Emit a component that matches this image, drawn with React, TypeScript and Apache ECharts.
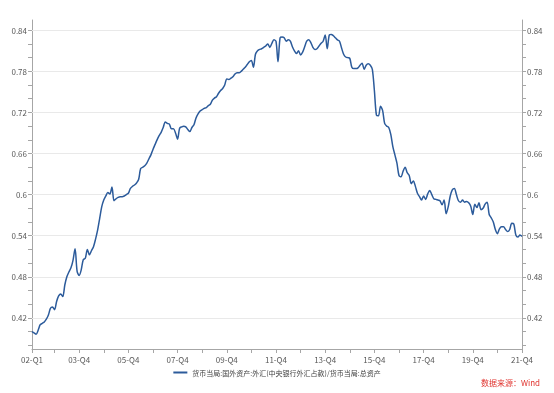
import React, { useEffect, useRef } from "react";
import * as echarts from "echarts";

// Monthly ratio, 2002-01 .. 2021-12
const ratio: number[] = [
  0.400, 0.398, 0.396, 0.402, 0.410, 0.412, 0.414, 0.418, 0.424, 0.434, 0.436, 0.432,
  0.444, 0.452, 0.455, 0.451, 0.468, 0.480, 0.487, 0.493, 0.504, 0.521, 0.488, 0.482,
  0.490, 0.505, 0.507, 0.520, 0.512, 0.518, 0.524, 0.535, 0.548, 0.565, 0.582, 0.592,
  0.598, 0.603, 0.601, 0.611, 0.591, 0.594, 0.596, 0.597, 0.597, 0.598, 0.600, 0.602,
  0.609, 0.612, 0.614, 0.617, 0.622, 0.638, 0.640, 0.642, 0.646, 0.652, 0.658, 0.666,
  0.673, 0.680, 0.686, 0.691, 0.698, 0.706, 0.704, 0.703, 0.696, 0.696, 0.690, 0.681,
  0.697, 0.699, 0.700, 0.699, 0.695, 0.692, 0.698, 0.702, 0.712, 0.718, 0.722, 0.724,
  0.726, 0.727, 0.730, 0.732, 0.738, 0.741, 0.743, 0.748, 0.752, 0.755, 0.760, 0.769,
  0.768, 0.770, 0.772, 0.776, 0.778, 0.778, 0.780, 0.783, 0.786, 0.790, 0.794, 0.796,
  0.786, 0.805, 0.810, 0.812, 0.813, 0.815, 0.817, 0.820, 0.815, 0.821, 0.826, 0.824,
  0.794, 0.829, 0.830, 0.829, 0.824, 0.826, 0.824, 0.816, 0.810, 0.806, 0.810, 0.804,
  0.808, 0.816, 0.824, 0.826, 0.822, 0.815, 0.812, 0.813, 0.817, 0.821, 0.824, 0.833,
  0.813, 0.833, 0.834, 0.832, 0.829, 0.826, 0.824, 0.814, 0.805, 0.801, 0.800, 0.799,
  0.786, 0.784, 0.784, 0.785, 0.789, 0.792, 0.783, 0.789, 0.791, 0.789, 0.783, 0.752,
  0.716, 0.715, 0.729, 0.723, 0.704, 0.700, 0.698, 0.688, 0.670, 0.658, 0.646, 0.628,
  0.626, 0.634, 0.640, 0.632, 0.628, 0.616, 0.620, 0.612, 0.602, 0.597, 0.592, 0.598,
  0.593, 0.601, 0.606, 0.600, 0.594, 0.593, 0.592, 0.591, 0.585, 0.592, 0.572, 0.582,
  0.598, 0.607, 0.609, 0.600, 0.591, 0.589, 0.592, 0.589, 0.590, 0.588, 0.583, 0.571,
  0.586, 0.581, 0.588, 0.578, 0.580, 0.586, 0.589, 0.571, 0.566, 0.560, 0.549, 0.543,
  0.550, 0.553, 0.553, 0.549, 0.546, 0.549, 0.558, 0.557, 0.541, 0.538, 0.541, 0.539,
];

const startYear = 2002;
const months: string[] = [];
for (let y = startYear; y <= 2021; y++) {
  for (let m = 1; m <= 12; m++) months.push(`${y}-${m < 10 ? "0" + m : m}`);
}

const yLabelValues = [0.42, 0.48, 0.54, 0.6, 0.66, 0.72, 0.78, 0.84];
const yTickValues = [0.38, 0.4, 0.42, 0.44, 0.46, 0.48, 0.5, 0.52, 0.54, 0.56, 0.58, 0.6, 0.62, 0.64, 0.66, 0.68, 0.7, 0.72, 0.74, 0.76, 0.78, 0.8, 0.82, 0.84];
const seriesName = "货币当局:国外资产:外汇(中央银行外汇占款)/货币当局:总资产";
const sourceText = "数据来源：Wind";

const Y_MIN = 0.3745;
const Y_MAX = 0.855;
const FONT = "'Noto Sans CJK SC', 'Noto Sans', sans-serif";

export default function App() {
  const ref = useRef<HTMLDivElement>(null);
  useEffect(() => {
    if (!ref.current) return;
    const chart = echarts.init(ref.current, null, { renderer: "svg" });
    const yAxisBase = (pos: "left" | "right") => ({
      type: "value",
      position: pos,
      min: Y_MIN,
      max: Y_MAX,
      axisLine: { show: true, onZero: false, lineStyle: { color: "#a6a6a6", width: 1 } },
      axisTick: { show: true, length: 4, customValues: yTickValues, lineStyle: { color: "#a6a6a6" } },
      axisLabel: {
        customValues: yLabelValues,
        margin: 5,
        fontSize: 8,
        color: "#595959",
        fontFamily: FONT,
        formatter: (v: number) => String(Math.round(v * 100) / 100),
      },
      splitLine: { show: false },
    });
    chart.setOption({
      animation: false,
      grid: { left: 32, right: 32, top: 20, bottom: 44, containLabel: false },
      legend: {
        bottom: 12,
        left: "center",
        icon: "rect",
        itemWidth: 14,
        itemHeight: 2,
        itemGap: 4,
        textStyle: { fontSize: 7, color: "#404040", fontFamily: FONT },
        data: [seriesName],
      },
      xAxis: {
        type: "category",
        data: months,
        boundaryGap: false,
        axisLine: { lineStyle: { color: "#a6a6a6" } },
        axisTick: {
          length: 4,
          interval: (i: number) => i === 0 || (i - 11) % 12 === 0,
          lineStyle: { color: "#a6a6a6" },
        },
        axisLabel: {
          interval: (i: number) => i === 0 || (i - 23) % 24 === 0,
          margin: 6,
          fontSize: 8,
          color: "#595959",
          fontFamily: FONT,
          formatter: (v: string) => {
            const yy = v.slice(2, 4);
            const m = parseInt(v.slice(5, 7), 10);
            return `${yy}-Q${Math.ceil(m / 3)}`;
          },
        },
        splitLine: { show: false },
      },
      yAxis: [yAxisBase("left"), yAxisBase("right")],
      series: [
        {
          name: seriesName,
          type: "line",
          data: ratio,
          yAxisIndex: 0,
          showSymbol: false,
          smooth: 0.3,
          lineStyle: { color: "#2c5b9b", width: 1.5 },
          itemStyle: { color: "#2c5b9b" },
          z: 3,
          markLine: {
            silent: true,
            symbol: ["none", "none"],
            label: { show: false },
            lineStyle: { color: "#e9e9e9", type: "solid", width: 1 },
            emphasis: { disabled: true },
            data: yLabelValues.map((v) => ({ yAxis: v })),
            z: 1,
          },
        },
      ],
      graphic: [
        {
          type: "text",
          right: 14,
          top: 378,
          style: { text: sourceText, fill: "#e0342f", fontSize: 8, fontFamily: FONT },
        },
      ],
    });
    return () => chart.dispose();
  }, []);
  return <div ref={ref} style={{ position: "fixed", left: 0, top: 0, width: 554, height: 393 }} />;
}
